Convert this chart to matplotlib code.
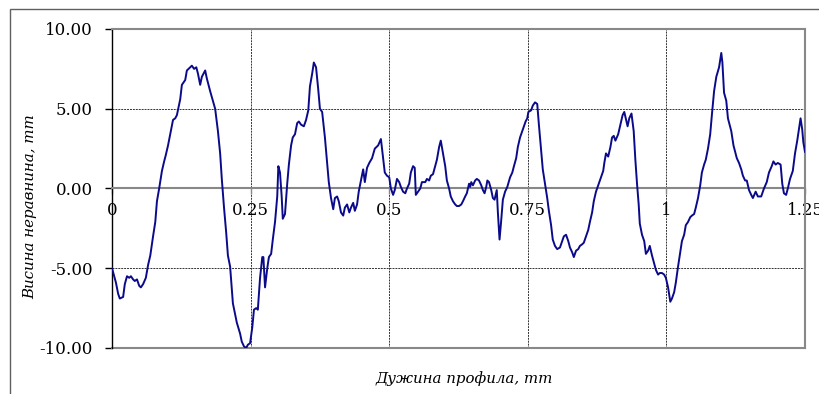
import matplotlib
matplotlib.use("Agg")
import matplotlib.pyplot as plt
from matplotlib.patches import Rectangle

# Profile trace (x in mm, height in mm)
x_mm = [0.000, 0.007, 0.011, 0.014, 0.020, 0.023, 0.027, 0.031, 0.034, 0.038,
        0.041, 0.045, 0.049, 0.052, 0.056, 0.061, 0.065, 0.069, 0.074, 0.078,
        0.081, 0.085, 0.090, 0.094, 0.097, 0.101, 0.106, 0.110, 0.114, 0.117,
        0.123, 0.126, 0.132, 0.135, 0.141, 0.144, 0.148, 0.152, 0.155, 0.159,
        0.162, 0.168, 0.171, 0.177, 0.182, 0.186, 0.191, 0.195, 0.198, 0.202,
        0.206, 0.209, 0.213, 0.218, 0.222, 0.225, 0.231, 0.234, 0.238, 0.242,
        0.245, 0.249, 0.253, 0.256, 0.260, 0.263, 0.267, 0.271, 0.273, 0.276,
        0.280, 0.283, 0.287, 0.290, 0.294, 0.298, 0.300, 0.303, 0.306, 0.308,
        0.312, 0.316, 0.319, 0.323, 0.326, 0.330, 0.334, 0.337, 0.341, 0.346,
        0.350, 0.354, 0.357, 0.361, 0.364, 0.368, 0.372, 0.375, 0.379, 0.384,
        0.388, 0.391, 0.395, 0.399, 0.402, 0.406, 0.409, 0.413, 0.417, 0.420,
        0.424, 0.428, 0.431, 0.435, 0.438, 0.442, 0.445, 0.449, 0.453, 0.456,
        0.460, 0.464, 0.469, 0.474, 0.480, 0.485, 0.489, 0.492, 0.496, 0.500,
        0.503, 0.507, 0.510, 0.514, 0.518, 0.521, 0.525, 0.529, 0.532, 0.536,
        0.539, 0.543, 0.546, 0.548, 0.552, 0.556, 0.559, 0.565, 0.568, 0.572,
        0.575, 0.579, 0.583, 0.586, 0.590, 0.593, 0.597, 0.601, 0.604, 0.608,
        0.611, 0.615, 0.619, 0.622, 0.626, 0.630, 0.633, 0.637, 0.640, 0.644,
        0.646, 0.648, 0.651, 0.655, 0.658, 0.662, 0.666, 0.669, 0.672, 0.675,
        0.677, 0.680, 0.684, 0.687, 0.690, 0.694, 0.696, 0.699, 0.702, 0.705,
        0.709, 0.713, 0.718, 0.722, 0.725, 0.729, 0.732, 0.736, 0.740, 0.743,
        0.746, 0.749, 0.751, 0.756, 0.759, 0.763, 0.767, 0.770, 0.774, 0.777,
        0.781, 0.785, 0.788, 0.792, 0.795, 0.799, 0.803, 0.808, 0.812, 0.815,
        0.819, 0.823, 0.826, 0.830, 0.833, 0.837, 0.841, 0.844, 0.848, 0.851,
        0.855, 0.859, 0.862, 0.866, 0.869, 0.873, 0.876, 0.880, 0.886, 0.888,
        0.891, 0.895, 0.899, 0.902, 0.905, 0.908, 0.913, 0.917, 0.921, 0.924,
        0.928, 0.930, 0.933, 0.937, 0.941, 0.944, 0.947, 0.950, 0.952, 0.956,
        0.960, 0.963, 0.967, 0.970, 0.974, 0.978, 0.981, 0.985, 0.988, 0.992,
        0.996, 0.999, 1.003, 1.007, 1.010, 1.014, 1.017, 1.021, 1.025, 1.028,
        1.032, 1.035, 1.039, 1.043, 1.046, 1.050, 1.053, 1.057, 1.061, 1.064,
        1.068, 1.071, 1.075, 1.079, 1.082, 1.086, 1.090, 1.095, 1.099, 1.101,
        1.104, 1.108, 1.111, 1.117, 1.121, 1.127, 1.131, 1.135, 1.138, 1.142,
        1.145, 1.149, 1.153, 1.156, 1.161, 1.165, 1.171, 1.176, 1.181, 1.185,
        1.190, 1.193, 1.197, 1.201, 1.206, 1.209, 1.212, 1.216, 1.219, 1.223,
        1.228, 1.232, 1.236, 1.239, 1.242, 1.245, 1.247, 1.250]

height_mm = [-5.0, -5.9, -6.6, -6.9, -6.8, -6.0, -5.5, -5.6, -5.5, -5.7,
             -5.8, -5.7, -6.1, -6.2, -6.0, -5.6, -4.8, -4.2, -3.0, -2.1,
             -0.8, 0.0, 1.1, 1.7, 2.1, 2.7, 3.6, 4.3, 4.4, 4.6,
             5.6, 6.5, 6.8, 7.4, 7.6, 7.7, 7.5, 7.6, 7.2, 6.5,
             7.0, 7.4, 6.9, 6.1, 5.5, 5.0, 3.6, 2.2, 0.6, -1.2,
             -2.8, -4.2, -4.9, -7.2, -7.9, -8.4, -9.1, -9.6, -9.9, -10.0,
             -9.8, -9.7, -8.7, -7.6, -7.5, -7.6, -5.6, -4.3, -4.3, -6.2,
             -5.0, -4.3, -4.1, -3.2, -2.1, -0.5, 1.4, 1.0, -0.5, -1.9,
             -1.6, 0.3, 1.5, 2.7, 3.2, 3.4, 4.1, 4.2, 4.0, 3.9,
             4.3, 4.9, 6.4, 7.2, 7.9, 7.6, 6.2, 5.0, 4.8, 3.2,
             1.6, 0.4, -0.6, -1.3, -0.6, -0.5, -0.8, -1.5, -1.7, -1.2,
             -1.0, -1.5, -1.2, -0.9, -1.4, -1.0, -0.2, 0.5, 1.2, 0.4,
             1.3, 1.6, 1.9, 2.5, 2.7, 3.1, 1.9, 1.0, 0.8, 0.7,
             0.0, -0.4, -0.1, 0.6, 0.4, 0.1, -0.2, -0.3, 0.0, 0.3,
             1.0, 1.4, 1.3, -0.4, -0.2, 0.0, 0.4, 0.4, 0.6, 0.5,
             0.8, 0.9, 1.4, 1.8, 2.6, 3.0, 2.2, 1.4, 0.5, 0.0,
             -0.5, -0.8, -1.0, -1.1, -1.1, -1.0, -0.8, -0.5, -0.3, 0.3,
             0.1, 0.4, 0.2, 0.5, 0.6, 0.5, 0.2, -0.1, -0.3, 0.1,
             0.5, 0.4, -0.1, -0.6, -0.7, -0.1, -1.5, -3.2, -2.0, -0.7,
             -0.2, 0.1, 0.7, 1.0, 1.4, 1.9, 2.6, 3.2, 3.6, 3.9,
             4.2, 4.4, 4.8, 4.9, 5.2, 5.4, 5.3, 4.0, 2.4, 1.2,
             0.3, -0.6, -1.4, -2.3, -3.2, -3.6, -3.8, -3.7, -3.3, -3.0,
             -2.9, -3.3, -3.7, -4.0, -4.3, -3.9, -3.8, -3.6, -3.5, -3.4,
             -3.0, -2.6, -2.1, -1.5, -0.8, -0.2, 0.1, 0.5, 1.1, 1.6,
             2.2, 2.0, 2.6, 3.2, 3.3, 3.0, 3.4, 4.0, 4.6, 4.8,
             4.2, 3.9, 4.4, 4.7, 3.6, 1.8, 0.3, -1.0, -2.2, -2.9,
             -3.3, -4.1, -3.9, -3.6, -4.2, -4.7, -5.1, -5.4, -5.3, -5.3,
             -5.4, -5.6, -6.2, -7.1, -6.9, -6.5, -5.9, -4.9, -4.0, -3.3,
             -2.9, -2.3, -2.1, -1.8, -1.7, -1.6, -1.2, -0.6, 0.2, 1.0,
             1.5, 1.8, 2.5, 3.4, 4.6, 6.1, 7.0, 7.6, 8.5, 7.9,
             6.0, 5.5, 4.4, 3.6, 2.7, 1.9, 1.6, 1.2, 0.8, 0.5,
             0.5, -0.1, -0.4, -0.6, -0.2, -0.5, -0.5, 0.0, 0.4, 1.0,
             1.4, 1.7, 1.5, 1.6, 1.5, 0.3, -0.3, -0.4, 0.0, 0.6,
             1.1, 2.2, 3.0, 3.7, 4.4, 3.7, 2.9, 2.3]

x_ticks = [0, 0.25, 0.5, 0.75, 1, 1.25]
x_tick_labels = ["0", "0.25", "0.5", "0.75", "1", "1.25"]
y_ticks = [-10, -5, 0, 5, 10]

plt.rcParams['font.family'] = ['DejaVu Serif']

fig = plt.figure(figsize=(8.19, 3.94), dpi=100)
ax = fig.add_axes([0.1368, 0.1168, 0.8461, 0.8096])

# Outer chart frame
fig.patches.append(Rectangle((10 / 819, -0.1), 1.2, 1 - 9 / 394 + 0.1,
                             transform=fig.transFigure, fill=False,
                             edgecolor='#606060', linewidth=1.0))

ax.plot(x_mm, height_mm, color='#0a0a8a', linewidth=1.4, zorder=3)

ax.set_xlim(0, 1.25)
ax.set_ylim(-10, 10)

# Grid lines
for gx in [0.25, 0.5, 0.75, 1.0]:
    ax.axvline(gx, color='#333333', linestyle=(0, (2, 1)), linewidth=0.7, zorder=1)
for gy in [5, -5]:
    ax.axhline(gy, color='#333333', linestyle=(0, (2, 1)), linewidth=0.7, zorder=1)
ax.axhline(-10, color='#888888', linewidth=1.5, zorder=2, clip_on=False)

# Spines
ax.spines['left'].set_color('black')
ax.spines['left'].set_linewidth(1.0)
ax.spines['bottom'].set_position(('data', 0))
ax.spines['bottom'].set_color('#888888')
ax.spines['bottom'].set_linewidth(1.5)
ax.spines['top'].set_color('#888888')
ax.spines['top'].set_linewidth(1.5)
ax.spines['right'].set_color('#888888')
ax.spines['right'].set_linewidth(1.5)

ax.set_yticks(y_ticks)
ax.set_yticklabels([f"{v:.2f}" for v in y_ticks])
ax.set_xticks(x_ticks)
ax.set_xticklabels(x_tick_labels)
ax.tick_params(axis='y', direction='out', length=5, width=1, color='black',
               pad=9, labelsize=12)
ax.tick_params(axis='x', direction='out', length=4, width=1, color='#888888',
               pad=6, labelsize=12)

fig.text(0.0366, 0.475, "Висина неравнина, mm", rotation=90, style='italic',
         fontsize=10.8, ha='center', va='center')
fig.text(0.567, 0.04, "Дужина профила, mm", style='italic',
         fontsize=10.8, ha='center', va='center')

fig.savefig("out.png", dpi=100)
